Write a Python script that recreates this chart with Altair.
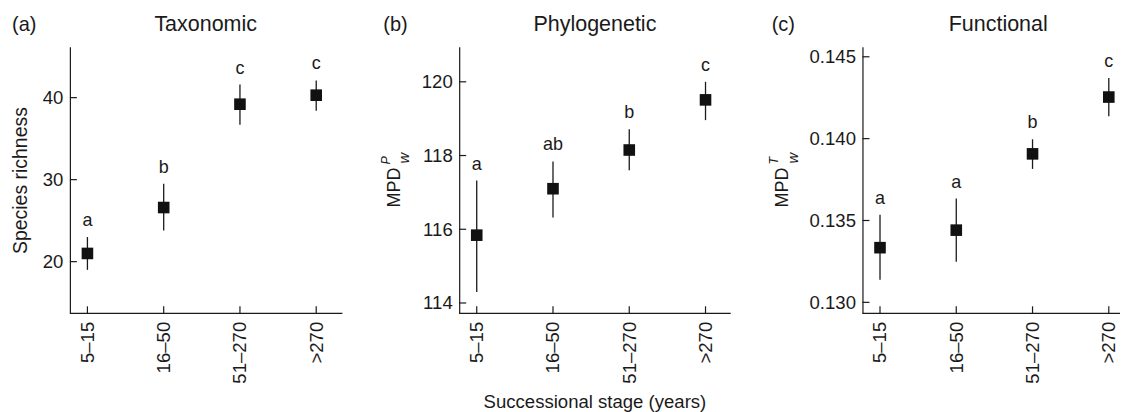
import json
import altair as alt
import pandas as pd

stages = ["5–15", "16–50", "51–270", ">270"]
panel_labels = ["(a)", "(b)", "(c)"]
panel_titles = ["Taxonomic", "Phylogenetic", "Functional"]

tax_mean = [21.0, 26.6, 39.2, 40.3]
tax_lo = [19.0, 23.8, 36.7, 38.4]
tax_hi = [23.0, 29.5, 41.6, 42.1]
tax_letters = ["a", "b", "c", "c"]
tax_ticks = [20, 30, 40]

phy_mean = [115.84, 117.1, 118.15, 119.51]
phy_lo = [114.3, 116.32, 117.6, 118.96]
phy_hi = [117.32, 117.84, 118.71, 120.0]
phy_letters = ["a", "ab", "b", "c"]
phy_ticks = [114, 116, 118, 120]

fun_mean = [0.13334, 0.13441, 0.13907, 0.14254]
fun_lo = [0.13138, 0.13248, 0.13815, 0.14136]
fun_hi = [0.13535, 0.13634, 0.13996, 0.1437]
fun_letters = ["a", "a", "b", "c"]
fun_ticks = [0.130, 0.135, 0.140, 0.145]

FONT = "Liberation Sans"
INK = "#1a1a1a"
H = 267
PW = 273          # drawn plot width
STEP = 76.4       # px per category
FS = 18.6
TY = -21.5        # vertical position of panel titles above the plot

label_expr = json.dumps(stages, ensure_ascii=False) + "[datum.value]"


def panel(i, mean, lo, hi, letters, ticks, ydomain, fmt, xtitle, ytitle,
          sub=None, width=PW, line=PW):
    df = pd.DataFrame({"idx": list(range(len(stages))), "stage": stages,
                       "mean": mean, "lo": lo, "hi": hi, "letter": letters})
    tdf = pd.DataFrame({"v": ticks})
    x0 = -0.23
    xscale = alt.Scale(domain=[x0, x0 + width / STEP], nice=False, zero=False)
    yscale = alt.Scale(domain=ydomain, nice=False, zero=False)
    xaxis = alt.Axis(values=[0, 1, 2, 3], labelExpr=label_expr, labelAngle=270,
                     labelAlign="right", labelBaseline="middle", labelPadding=8,
                     ticks=False, grid=False, domain=False, titlePadding=9,
                     titleFontSize=FS, titleFontWeight="normal", titleX=PW / 2 - 1)
    yaxis = alt.Axis(values=ticks, format=fmt, ticks=False, grid=False,
                     labelPadding=7, titlePadding=12, titleFontSize=19.5,
                     titleFontWeight="normal")

    def X(field):
        return alt.X(field, scale=xscale, axis=xaxis, title=xtitle)

    def Y(field):
        return alt.Y(field, scale=yscale, axis=yaxis, title=ytitle)

    base = alt.Chart(df)
    err = base.mark_rule(color=INK, strokeWidth=1.3).encode(
        x=X("idx:Q"), y=Y("lo:Q"), y2="hi:Q")
    pts = base.mark_square(size=135, color="#111111", opacity=1).encode(
        x=X("idx:Q"), y=Y("mean:Q"))
    let = base.mark_text(dy=-11, baseline="alphabetic", fontSize=18,
                         font=FONT, color=INK).encode(
        x=X("idx:Q"), y=Y("hi:Q"), text="letter:N")
    xt = base.mark_rule(color=INK, strokeWidth=1.2).encode(
        x=X("idx:Q"), y=alt.value(H), y2=alt.value(H - 7))
    yt = alt.Chart(tdf).mark_rule(color=INK, strokeWidth=1.2).encode(
        y=Y("v:Q"), x=alt.value(0), x2=alt.value(7))
    ldf = pd.DataFrame({"t": [panel_labels[i]], "title": [panel_titles[i]]})
    lc = alt.Chart(ldf)
    xline = lc.mark_rule(color=INK, strokeWidth=1.2).encode(
        x=alt.value(0), x2=alt.value(line), y=alt.value(H))
    lab = lc.mark_text(align="left", baseline="middle", fontSize=20,
                       font=FONT, color=INK).encode(
        x=alt.value(sub["labx"] if sub else -58), y=alt.value(TY), text="t:N")
    ttl = lc.mark_text(align="center", baseline="middle", fontSize=21.5,
                       font=FONT, color=INK).encode(
        x=alt.value(PW / 2 - 0.5), y=alt.value(TY), text="title:N")
    layers = [err, xt, yt, xline, pts, let, lab, ttl]
    if sub:
        mdf = pd.DataFrame({"t": ["MPD"], "s": ["w"], "p": [sub["sup"]]})
        mc = alt.Chart(mdf)
        layers.append(mc.mark_text(angle=270, align="center", baseline="middle",
                                   fontSize=18, font=FONT, color=INK).encode(
            x=alt.value(sub["x"]), y=alt.value(141), text="t:N"))
        layers.append(mc.mark_text(angle=270, align="left", baseline="middle",
                                   fontSize=15, font=FONT, color=INK,
                                   fontStyle="italic").encode(
            x=alt.value(sub["x"] + 9.5), y=alt.value(117), text="s:N"))
        layers.append(mc.mark_text(angle=270, align="left", baseline="middle",
                                   fontSize=12.5, font=FONT, color=INK,
                                   fontStyle="italic").encode(
            x=alt.value(sub["x"] - 9), y=alt.value(118), text="p:N"))
    return alt.layer(*layers).properties(width=width, height=H)


a = panel(0, tax_mean, tax_lo, tax_hi, tax_letters, tax_ticks, [13.7, 46.2], "d",
          None, "Species richness")
b = panel(1, phy_mean, phy_lo, phy_hi, phy_letters, phy_ticks, [113.72, 120.95], "d",
          "Successional stage (years)", None,
          sub={"x": -64.5, "sup": "P", "labx": -76}, width=PW + 14, line=PW - 1)
c = panel(2, fun_mean, fun_lo, fun_hi, fun_letters, fun_ticks, [0.12933, 0.14561], ".3f",
          None, None, sub={"x": -79.5, "sup": "T", "labx": -91}, width=258, line=258)

chart = alt.hconcat(a, b, c, spacing=117, bounds="flush").properties(
    padding={"left": 2, "top": 5.5, "right": 0, "bottom": 0}
).configure_view(stroke=None).configure_axis(
    domainColor=INK, domainWidth=1.2, labelFont=FONT, labelFontSize=FS,
    labelColor=INK, titleFont=FONT, titleColor=INK
).configure_text(font=FONT)

chart.save("out.html", embed_options={"renderer": "svg", "actions": False})
